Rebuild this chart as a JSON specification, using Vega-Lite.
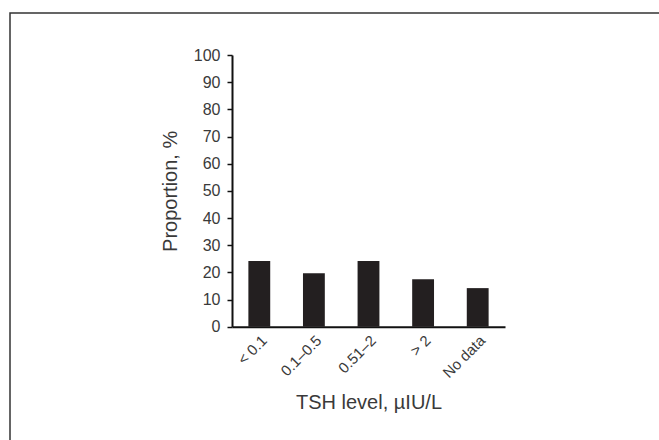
{
  "$schema": "https://vega.github.io/schema/vega-lite/v6.json",
  "autosize": {"type": "none"},
  "width": 650,
  "height": 428,
  "padding": {"left": 10, "top": 13, "right": -1, "bottom": -1},
  "background": "white",
  "data": {
    "values": [
      {"level": "< 0.1", "proportion": 24.2},
      {"level": "0.1–0.5", "proportion": 19.7},
      {"level": "0.51–2", "proportion": 24.2},
      {"level": "> 2", "proportion": 17.5},
      {"level": "No data", "proportion": 14.2}
    ]
  },
  "mark": {"type": "bar", "color": "#231f20"},
  "encoding": {
    "x": {
      "field": "level",
      "type": "nominal",
      "sort": null,
      "scale": {"range": [222, 495], "paddingInner": 0.6, "paddingOuter": 0.3},
      "axis": {
        "title": "TSH level, µIU/L",
        "offset": -114.3,
        "labelAngle": -45,
        "ticks": false,
        "labelPadding": 6,
        "labelFontSize": 15,
        "titlePadding": 12,
        "domainColor": "#111",
        "domainWidth": 2
      }
    },
    "y": {
      "field": "proportion",
      "type": "quantitative",
      "scale": {"domain": [0, 100], "range": [313.7, 42], "nice": false},
      "axis": {
        "title": "Proportion,  %",
        "offset": -222,
        "values": [0, 10, 20, 30, 40, 50, 60, 70, 80, 90, 100],
        "grid": false,
        "tickSize": 5,
        "tickWidth": 1.5,
        "tickColor": "#111",
        "domainColor": "#111",
        "domainWidth": 2,
        "labelPadding": 7,
        "labelFontSize": 16,
        "titlePadding": 13
      }
    }
  },
  "config": {
    "view": {"stroke": "#333", "strokeWidth": 1.5},
    "axis": {
      "labelFont": "Liberation Sans",
      "titleFont": "Liberation Sans",
      "titleFontSize": 20,
      "titleFontWeight": "normal",
      "labelColor": "#3a3a3a",
      "titleColor": "#3a3a3a"
    }
  }
}
